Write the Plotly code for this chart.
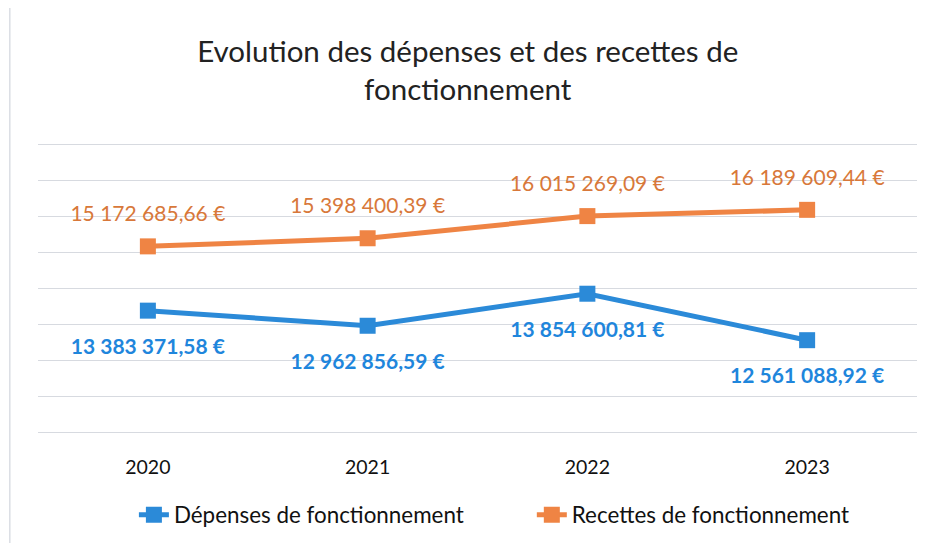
import plotly.graph_objects as go

years = ["2020", "2021", "2022", "2023"]
depenses = [13383371.58, 12962856.59, 13854600.81, 12561088.92]
recettes = [15172685.66, 15398400.39, 16015269.09, 16189609.44]
y_ticks = [10e6, 11e6, 12e6, 13e6, 14e6, 15e6, 16e6, 17e6, 18e6]

BLUE = "#2B8AD8"
ORANGE = "#EF8444"
BLUE_TXT = "#1F86DC"
ORANGE_TXT = "#D8783A"
FONT = "Lato"


def fmt(v):
    s = f"{v:,.2f}"
    return s.replace(",", " ").replace(".", ",") + " €"


fig = go.Figure()
fig.add_trace(go.Scatter(
    x=years, y=depenses, name="Dépenses de fonctionnement" + "\u00a0" * 11,
    mode="lines+markers",
    line=dict(color=BLUE, width=5),
    marker=dict(symbol="square", size=16, color=BLUE),
))
fig.add_trace(go.Scatter(
    x=years, y=recettes, name="Recettes de fonctionnement",
    mode="lines+markers",
    line=dict(color=ORANGE, width=5),
    marker=dict(symbol="square", size=16, color=ORANGE),
))
# data labels
fig.add_trace(go.Scatter(
    x=years, y=recettes, mode="markers+text", showlegend=False, hoverinfo="skip",
    marker=dict(size=30, opacity=0, color=ORANGE),
    text=[fmt(v) for v in recettes], textposition="top center",
    textfont=dict(family=FONT, size=21, color=ORANGE_TXT),
))
fig.add_trace(go.Scatter(
    x=years, y=depenses, mode="markers+text", showlegend=False, hoverinfo="skip",
    marker=dict(size=42, opacity=0, color=BLUE),
    text=["<b>" + fmt(v) + "</b>" for v in depenses], textposition="bottom center",
    textfont=dict(family=FONT, size=21, color=BLUE_TXT),
))

fig.update_layout(
    width=925, height=535,
    paper_bgcolor="white", plot_bgcolor="white",
    margin=dict(l=30, r=16, t=135, b=109, autoexpand=False),
    shapes=[dict(type="line", xref="paper", yref="paper", x0=-0.032, x1=-0.032, y0=-0.4, y1=1.5,
                 line=dict(color="#C8CDD6", width=1))],
    title=dict(text="Evolution des dépenses et des recettes de<br>fonctionnement",
               x=0.497, xanchor="center", y=0.9, yanchor="middle",
               font=dict(family=FONT, size=29.5, color="#222222")),
    xaxis=dict(type="category", range=[-0.5, 3.5], showgrid=False, zeroline=False,
               showline=False, ticks="", tickfont=dict(family=FONT, size=19.5, color="#111111"),
               ticklabelstandoff=19),
    yaxis=dict(range=[9.95e6, 18.05e6], tickvals=y_ticks, showticklabels=False,
               gridcolor="#D7DAE0", gridwidth=1.3, zeroline=False, showline=False),
    legend=dict(orientation="h", x=0.1091, xanchor="left",
                yref="container", y=0.052, yanchor="middle",
                font=dict(family=FONT, size=22.4, color="#111111"),
                tracegroupgap=0),
    showlegend=True,
)

fig.write_html("out.html")
